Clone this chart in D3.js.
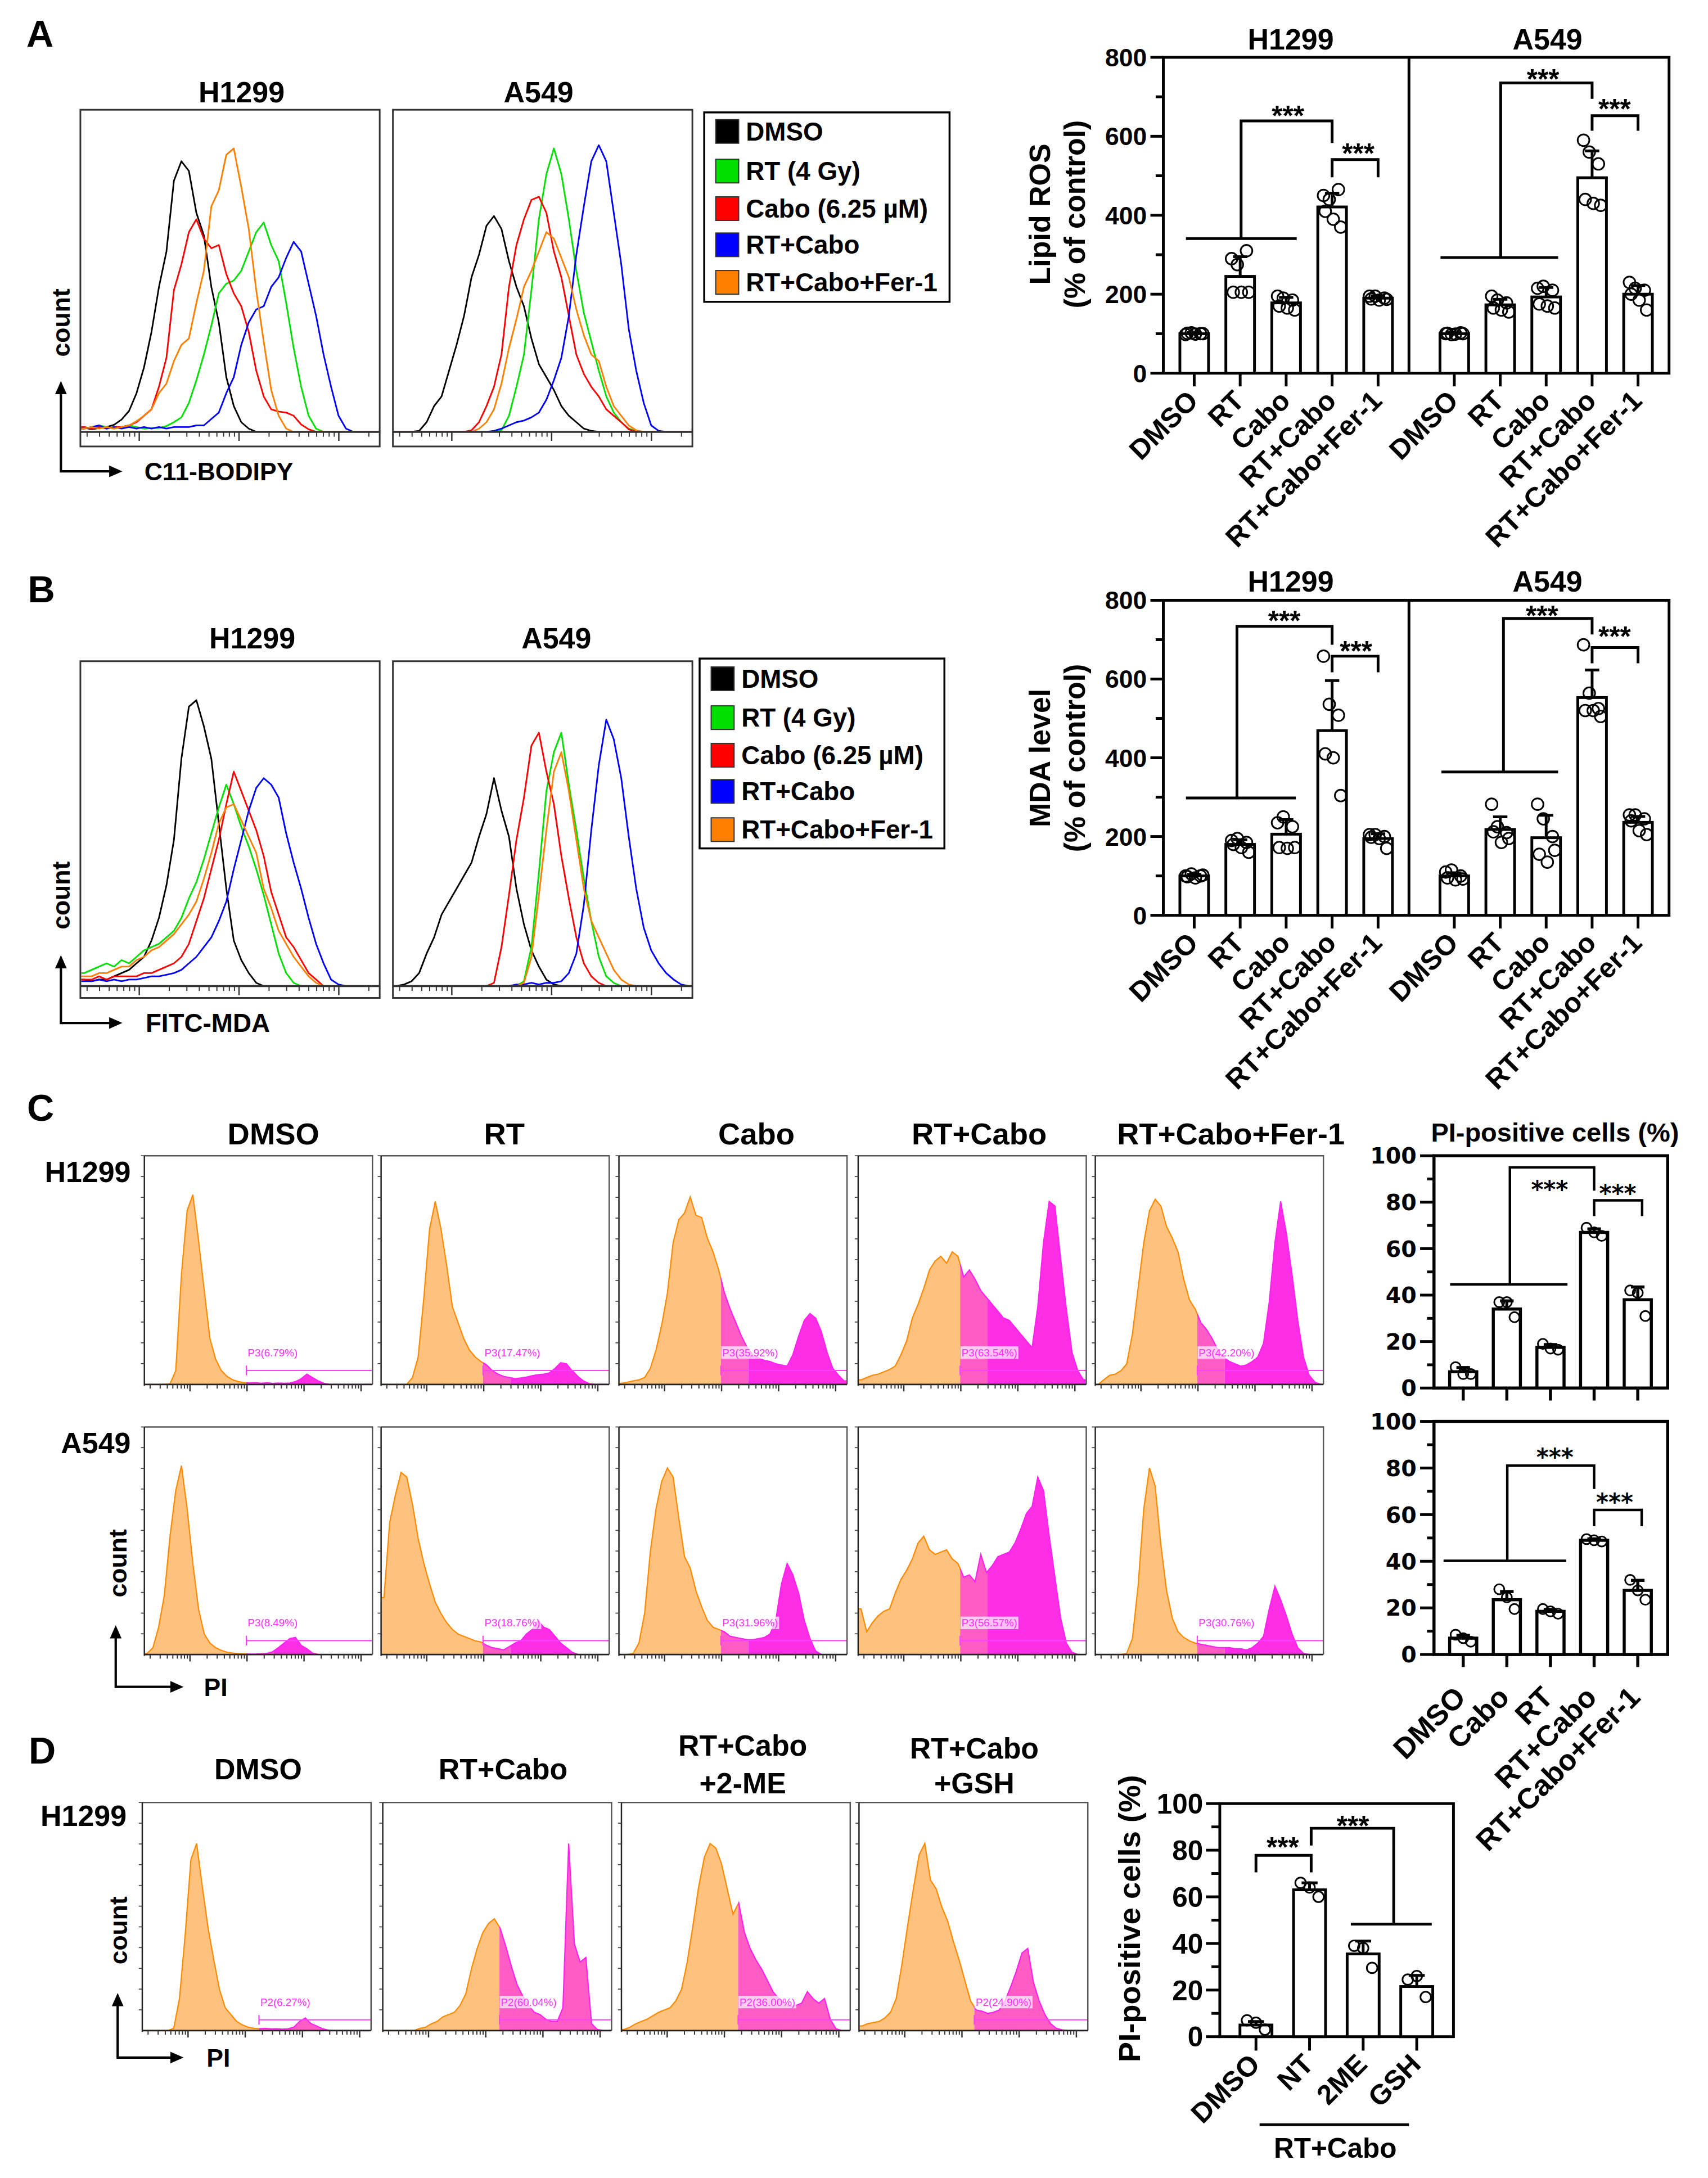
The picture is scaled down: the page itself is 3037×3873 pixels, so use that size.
<!DOCTYPE html>
<html><head><meta charset="utf-8">
<script src="https://cdn.jsdelivr.net/npm/d3@7"></script>
<style>body{margin:0;background:#fff}</style>
</head><body>
<script>
// ---------------- DATA ----------------
// flow histograms: 40 bins across the plot width (counts as % of plot height)
const bins = d3.range(1.25, 100, 2.5);
const histLegend = ["DMSO", "RT (4 Gy)", "Cabo (6.25 \u00b5M)", "RT+Cabo", "RT+Cabo+Fer-1"];
const histColors = ["#000000", "#00E000", "#FF0000", "#0000FF", "#FF8000"];
// Panel A  C11-BODIPY
const aH_DMSO  = [1.3,0.8,1.2,1.5,2.2,3.8,6.5,12,20,31,45,56,78,84,81,68,61,45,34,17,8,3,1,0,0,0,0,0,0,0,0,0,0,0,0,0,0,0,0,0];
const aH_RT    = [1.5,1,2,1.5,1,1.5,2,1.5,1,1.2,1.2,1.8,3,4.5,9,16,24,33,43,46,47,50,56,62,65,58,53,40,26,14,5,1,0,0,0,0,0,0,0,0];
const aH_Cabo  = [1.5,1,1.5,1,1.5,1.5,2,3,5,7,14,23,44,52,62,66,60,57,58,49,43,39,31,19,11,7,6.3,6,5,2.3,0.8,0,0,0,0,0,0,0,0,0];
const aH_RTCabo= [1,1.5,2,1,1.5,1,1.5,1,1.5,1,1.5,1,1.5,1.5,1.5,2,2,4,6,12,17,27,34,38,39,45,48,54,59,56,46,36,24,14,5,1,0,0,0,0];
const aH_Fer   = [1,1.5,1,1.5,1,1.5,2,3.3,5,7,12,15,22,27,29,40,50,70,75,86,88,76,63,44,28,13,5,1,0,0,0,0,0,0,0,0,0,0,0,0];
const aA_DMSO  = [0,0,0,0.3,3,8,11,19,27,36,48,55,64,67,63,53,45,39,29,21,17,13,8,5,3,1,0.3,0,0,0,0,0,0,0,0,0,0,0,0,0];
const aA_RT    = [0,0,0,0,0,0,0,0,0,0,0,0,0,0,0.5,5,14,24,44,66,80,88,80,66,50,37,28,19,11,6,3,1,0.3,0,0,0,0,0,0,0];
const aA_Cabo  = [0,0,0,0,0,0,0,0,0,0,0.5,3,8,14,24,45,58,66,72,73,68,56,48,36,24,18,14,11,7,5,3,0.8,0,0,0,0,0,0,0,0];
const aA_RTCabo= [0,0,0,0,0,0,0,0,0,0,0,0,0,0.3,1,2,3,3.5,4.5,6,10,16,23,36,55,70,84,89,84,68,52,32,19,9,2,0.3,0,0,0,0];
const aA_Fer   = [0,0,0,0,0,0,0,0,0,0,0,1,3,7,15,26,35,45,50,56,62,60,54,48,38,30,24,22,14,8,5,2,0.5,0,0,0,0,0,0,0];
// Panel B  FITC-MDA
const bH_DMSO  = [2,1.5,2,2,3,4,5,7,9,14,21,31,45,70,86,88,80,70,50,30,14,8,4,1,0,0,0,0,0,0,0,0,0,0,0,0,0,0,0,0];
const bH_RT    = [4,5,6,7,6,8,7,9,11,12,13,15,17,21,27,32,39,47,55,62,56,49,43,36,28,19,10,4,1,0,0,0,0,0,0,0,0,0,0,0];
const bH_Cabo  = [2,2,3,2,3,3,3,3,4,4,5,6,7,9,13,20,27,36,45,56,66,60,54,48,40,29,22,15,12,8,4,2,0,0,0,0,0,0,0,0];
const bH_RTCabo= [1.5,1.5,2,1.5,2,1.5,2,2,2.5,3,3,3.5,4,5,7,9,12,15,20,26,36,45,54,61,64,62,58,47,38,30,21,13,7,2,0.5,0,0,0,0,0];
const bH_Fer   = [3,3,4,4,5,6,6,8,9,11,12,14,16,19,22,26,33,41,50,55,56,51,46,41,30,24,17,13,9,6,3,1,0,0,0,0,0,0,0,0];
const bA_DMSO  = [0,0.5,1.5,4,10,15,22,26,30,34,38,46,53,64,54,46,30,19,11,6,2,0.5,0,0,0,0,0,0,0,0,0,0,0,0,0,0,0,0,0,0];
const bA_RT    = [0,0,0,0,0,0,0,0,0,0,0,0,0,0,0,0,0,1.5,12,35,60,72,78,62,48,33,20,9,3,1,0,0,0,0,0,0,0,0,0,0];
const bA_Cabo  = [0,0,0,0,0,0,0,0,0,0,0,0,0,1,12,28,45,58,74,78,66,56,40,27,15,7,3,1,0,0,0,0,0,0,0,0,0,0,0,0];
const bA_RTCabo= [0,0,0,0,0,0,0,0,0,0,0,0,0,0,0,0,0.5,0.5,1,0.5,1,1,1.5,4,10,25,48,68,82,76,64,46,30,18,11,7,4,2,0.5,0];
const bA_Fer   = [0,0,0,0,0,0,0,0,0,0,0,0,0,0,0,0,0,1,9,28,48,66,72,60,45,30,20,15,10,5,2,0.5,0,0,0,0,0,0,0,0];
// Panel C  PI
const cTitles = ["DMSO", "RT", "Cabo", "RT+Cabo", "RT+Cabo+Fer-1"];
const cH_DMSO  = [0,0,0,0,0.3,6,48,76,83,63,41,20,11,6,3.5,2,1.2,0.8,0.6,0.8,0.5,0.7,0.4,0.6,0.5,0.6,1.2,2.5,4.5,3,1.5,0.5,0,0,0,0,0,0,0,0];
const cH_RT    = [0,0,0,0,0,3,12,38,68,80,68,52,34,27,20,15,12,10,8.5,6,4.5,3.5,3,2.5,2.8,3.2,3.8,4.2,4.5,5,7,9.5,9,6,3.5,1.5,0.3,0,0,0];
const cH_Cabo  = [0.5,1,1.5,2,3,7,15,26,40,62,72,75,82,74,73,64,58,50,40,33,27,21,16,13,11.5,10.5,10,9,8.5,8,13,21,28,31,29,23,14,7,4,1.5];
const cH_RTCabo= [2,3,4,4.5,5.5,6.5,8,13,19,29,35,42,50,54,56,53,58,56,47,50,46,41,38,35,32,29,28,25,22,19,16,34,62,80,78,55,33,14,6,2];
const cH_Fer   = [0,2,4,4.5,6,9,22,42,62,76,81,78,69,64,58,46,37,33,27,24,20,15,12,10,9,8,8.5,10,12,18,36,62,80,66,48,28,12,4,1,0];
const cA_DMSO  = [0.5,3,12,26,52,72,83,64,40,20,9,5,3,1.8,1,0.6,0.4,0.3,0.2,0.2,0.3,0.5,1.2,3,5,7,7.5,4,2.5,0.6,0,0,0,0,0,0,0,0,0,0];
const cA_RT    = [25,58,70,80,78,66,51,40,31,23,18,14,11,9,8,7,6,5.5,4,3,2.5,2,3.5,5,6,9,11,15,12,11,8,5,3,1,0,0,0,0,0,0];
const cA_Cabo  = [0,0,0.5,5,18,45,64,76,82,78,60,43,38,28,21,15,12,11,10,8,7.5,7,6.5,6.5,7,7.5,9,15,31,40,35,27,15,7,1.5,0,0,0,0,0];
const cA_RTCabo= [20,10,14,17,19,20,27,33,37,42,49,52,46,44,45,46,42,40,34,35,32,44,36,39,43,44,45,49,55,62,65,78,72,52,34,16,5,1,0,0];
const cA_Fer   = [0,0,0,0,0,0.5,7,30,64,82,74,48,28,16,10,7.5,6,5,4.5,4,3.5,3,3,3,2.5,2.5,2,3,5,8,20,30,24,17,9,3,0.5,0,0,0];
const cH_gates = ["P3(6.79%)", "P3(17.47%)", "P3(35.92%)", "P3(63.54%)", "P3(42.20%)"];
const cA_gates = ["P3(8.49%)", "P3(18.76%)", "P3(31.96%)", "P3(56.57%)", "P3(30.76%)"];
// Panel D  PI
const d_DMSO   = [0,0,0,0,0,1,14,42,75,82,63,45,31,18,10,7,4,2.5,1.5,1,0.8,1,0.7,0.8,0.6,0.8,1.5,4,5.5,3,2,0.8,0.2,0,0,0,0,0,0,0];
const d_RTCabo = [0,0,0,0,0,0,1,1.5,3,4,6,7,8,11,16,27,36,43,47,49,45,37,28,20,15,11,8,7,5,4,4,10,82,38,30,32,3,0.5,0,0];
const d_2ME    = [0.5,1.5,3,4,5,6.5,8,9,10,13,18,30,46,63,76,82,80,73,62,51,56,43,36,31,27,22,17,14,12,10.5,11,12,17,14,12,14,5,0.8,0,0];
const d_GSH    = [2,3,3.5,4,5.5,8,14,29,46,62,77,82,66,62,54,48,39,31,22,13,9,8.5,7.5,8,9,13,19,26,34,36,21,13,7,3,1,0.3,0,0,0,0];
const d_gates  = ["P2(6.27%)", "P2(60.04%)", "P2(36.00%)", "P2(24.90%)"];
const d_gatePos = [51, 51, 51, 50.4];

// Bar charts
const catsA = ["DMSO", "RT", "Cabo", "RT+Cabo", "RT+Cabo+Fer-1"];
const lipidH1299 = [100, 245, 178, 421, 190];
const lipidH1299SD = [3, 50, 14, 35, 6];
const lipidH1299Pts = [[98,102,100,101,99,100],[290,275,310,205,205,205],[195,190,185,170,165,160],[450,440,465,410,390,370],[195,195,190,188,185,187]];
const lipidA549 = [100, 173, 193, 495, 200];
const lipidA549SD = [3, 14, 24, 68, 22];
const lipidA549Pts = [[100,98,102,101,99,100],[195,185,178,165,160,155],[215,220,210,175,170,165],[590,560,530,440,430,425],[230,215,210,200,185,160]];
const mdaH1299 = [100, 180, 206, 469, 195];
const mdaH1299SD = [4, 12, 37, 127, 12];
const mdaH1299Pts = [[100,105,100,98,95,102],[190,195,185,180,172,160],[235,250,225,172,170,172],[658,536,508,410,400,304],[205,205,200,198,195,170]];
const mdaA549 = [100, 218, 197, 553, 236];
const mdaA549SD = [8, 32, 57, 70, 15];
const mdaA549Pts = [[110,115,100,95,90,92],[282,225,210,212,185,195],[282,245,200,155,135,165],[687,564,525,520,520,505],[255,255,245,240,215,205]];
const catsC = ["DMSO", "Cabo", "RT", "RT+Cabo", "RT+Cabo+Fer-1"];
const piH1299 = [7, 34, 17.5, 67, 38];
const piH1299SD = [1.8, 3.5, 1.2, 1.5, 5.5];
const piH1299Pts = [[9,6,6],[37,37,30.5],[19,17,16.5],[69,67,65.5],[42,41,31]];
const piA549 = [7, 23.5, 18.5, 49, 27.5];
const piA549SD = [1.2, 3.5, 0.8, 0.6, 4.3];
const piA549Pts = [[8.5,7,5.5],[28,24.5,19.5],[19.5,18.5,17.5],[49.5,49,48.5],[32,27.5,23.5]];
const catsD = ["DMSO", "NT", "2ME", "GSH"];
const piD = [5, 63, 35.5, 21.5];
const piDSD = [1.5, 3, 5.5, 4.8];
const piDPts = [[7,6,3],[66,64,60],[39,38,29.5],[24.5,26,17]];
// significance brackets: [category position, value]
const sigA_H1299 = [[[-0.18,341],[2.23,341]], [[1.02,341],[1.02,639],[3,639],[3,583]], [[3,496],[3,541],[4,541],[4,496]]];
const starsA_H1299 = [[2.04,669],[3.57,573]];
const sigA_A549 = [[[-0.3,293],[2.26,293]], [[1.01,293],[1.01,735],[3,735],[3,695]], [[3,614],[3,652],[4,652],[4,614]]];
const starsA_A549 = [[1.93,761],[3.49,686]];
const sigB_H1299 = [[[-0.18,298],[2.21,298]], [[0.93,298],[0.93,734],[3,734],[3,687]], [[3,617],[3,658],[4,658],[4,617]]];
const starsB_H1299 = [[1.96,765],[3.52,687]];
const sigB_A549 = [[[-0.28,364],[2.26,364]], [[1.07,364],[1.07,754],[3,754],[3,713]], [[3,640],[3,680],[4,680],[4,640]]];
const starsB_A549 = [[1.91,777],[3.49,724]];
const sigC_H1299 = [[[-0.3,44.6],[2.39,44.6]], [[1.07,44.6],[1.07,95],[3,95],[3,85]], [[3,74],[3,80.8],[4.1,80.8],[4.1,74]]];
const starsC_H1299 = [[1.98,87.9],[3.54,86]];
const sigC_A549 = [[[-0.45,40.2],[2.36,40.2]], [[1.01,40.2],[1.01,81],[3,81],[3,71]], [[3,55],[3,62],[4.09,62],[4.09,55]]];
const starsC_A549 = [[2.1,87],[3.47,67.6]];
const sigD = [[[0,70.5],[0,77.8],[1.03,77.8],[1.03,70.5]], [[1.03,82],[1.03,89.4],[2.57,89.4],[2.57,48.5]], [[1.77,48.3],[3.28,48.3]]];
const starsD = [[0.5,84],[1.81,93.2]];

// ---------------- DRAWING ----------------
const FONT = "'Liberation Sans', Arial, Helvetica, sans-serif";
const svg = d3.select("body").append("svg")
  .attr("width", 3037).attr("height", 3873).attr("viewBox", "0 0 1228 1566")
  .style("display", "block").style("background", "#fff");
svg.append("rect").attr("width", 1228).attr("height", 1566).attr("fill", "#fff");
const defs = svg.append("defs");

function txt(x, y, s, size, o = {}) {
  const t = svg.append("text").attr("x", x).attr("y", y).text(s)
    .attr("font-family", o.family || FONT).attr("font-size", size)
    .attr("font-weight", o.weight || "bold").attr("fill", o.fill || "#000")
    .attr("text-anchor", o.anchor || "start");
  if (o.rotate != null) t.attr("transform", `rotate(${o.rotate},${x},${y})`);
  return t;
}
function arrows(x, top, cy, right) {
  svg.append("path").attr("d", `M${x},${top + 7} L${x},${cy} L${right - 7},${cy}`)
    .attr("fill", "none").attr("stroke", "#000").attr("stroke-width", 1.7);
  svg.append("path").attr("d", `M${x},${top} L${x - 4.2},${top + 9.5} L${x + 4.2},${top + 9.5}Z`).attr("fill", "#000");
  svg.append("path").attr("d", `M${right},${cy} L${right - 9.5},${cy - 4.2} L${right - 9.5},${cy + 4.2}Z`).attr("fill", "#000");
}
let clipN = 0;
function clip(x, y, w, h) {
  const id = "cp" + (clipN++);
  defs.append("clipPath").attr("id", id).append("rect").attr("x", x).attr("y", y).attr("width", Math.max(0, w)).attr("height", h);
  return `url(#${id})`;
}
function pts(v) {
  return [[0.3, v[0]]].concat(bins.map((b, i) => [b, v[i]])).concat([[99.7, v[v.length - 1]]]);
}
function logTicks(x0, w, y, dom, majL, minL, col) {
  const ls = d3.scaleLog().domain(dom).range([x0, x0 + w]);
  ls.ticks().forEach(t => {
    const lg = Math.log10(t);
    const major = Math.abs(lg - Math.round(lg)) < 1e-6;
    svg.append("line").attr("x1", ls(t)).attr("x2", ls(t)).attr("y1", y).attr("y2", y + (major ? majL : minL))
      .attr("stroke", col).attr("stroke-width", major ? 1 : 0.8);
  });
}
function lineHist(x0, top, w, axisY, bottom, curves) {
  const xs = d3.scaleLinear().domain([0, 100]).range([x0, x0 + w]);
  const ys = d3.scaleLinear().domain([0, 100]).range([axisY, top]);
  const line = d3.line().x(d => xs(d[0])).y(d => ys(d[1]));
  const cp = clip(x0, top, w, axisY - top + 0.5);
  curves.forEach((c, i) => {
    svg.append("path").attr("d", line(pts(c))).attr("fill", "none").attr("stroke", histColors[i])
      .attr("stroke-width", 1.15).attr("stroke-linejoin", "round").attr("clip-path", cp);
  });
  svg.append("rect").attr("x", x0).attr("y", top).attr("width", w).attr("height", bottom - top)
    .attr("fill", "none").attr("stroke", "#333").attr("stroke-width", 1.2);
  svg.append("line").attr("x1", x0).attr("x2", x0 + w).attr("y1", axisY).attr("y2", axisY)
    .attr("stroke", "#333").attr("stroke-width", 1.4);
  logTicks(x0, w, axisY, [Math.pow(10, 0.41), Math.pow(10, 3.41)], 6.5, 3.5, "#333");
}
function legend(x, y, w, h, rows) {
  svg.append("rect").attr("x", x).attr("y", y).attr("width", w).attr("height", h)
    .attr("fill", "#fff").attr("stroke", "#000").attr("stroke-width", 1.4);
  histLegend.forEach((s, i) => {
    svg.append("rect").attr("x", x + 8.3).attr("y", rows[i] - 8.5).attr("width", 16.5).attr("height", 17)
      .attr("fill", histColors[i]).attr("stroke", "#333").attr("stroke-width", 0.8);
    txt(x + 30, rows[i] + 6.5, s, 18.5);
  });
}
function fillHist(x0, top, w, axisY, v, gate, ovEnd, label, gateY, pinkAll) {
  const xs = d3.scaleLinear().domain([0, 100]).range([x0, x0 + w]);
  const ys = d3.scaleLinear().domain([0, 100]).range([axisY, top]);
  const area = d3.area().x(d => xs(d[0])).y0(axisY).y1(d => ys(d[1]));
  const line = d3.line().x(d => xs(d[0])).y(d => ys(d[1]));
  const p = pts(v), gx = xs(gate), ox = xs(ovEnd), h = axisY - top + 0.5;
  const cL = clip(x0, top, gx - x0, h), cM = clip(gx, top, ox - gx, h), cR = clip(ox, top, x0 + w - ox, h), cMR = clip(gx, top, x0 + w - gx, h);
  svg.append("path").attr("d", area(p)).attr("fill", "#FFC27E").attr("clip-path", cL);
  svg.append("path").attr("d", area(p)).attr("fill", "#FF5CC6").attr("clip-path", cM);
  svg.append("path").attr("d", area(p)).attr("fill", pinkAll ? "#FF5CC6" : "#FF2EE6").attr("clip-path", cR);
  svg.append("path").attr("d", line(p)).attr("fill", "none").attr("stroke", "#FF8A00").attr("stroke-width", 0.9).attr("clip-path", cL);
  svg.append("path").attr("d", line(p)).attr("fill", "none").attr("stroke", "#FF22EE").attr("stroke-width", 0.9).attr("clip-path", cMR);
  // gate
  const gy = ys(gateY);
  svg.append("line").attr("x1", gx).attr("x2", x0 + w).attr("y1", gy).attr("y2", gy).attr("stroke", "#FF40FF").attr("stroke-width", 0.9);
  svg.append("line").attr("x1", gx).attr("x2", gx).attr("y1", gy - 3.5).attr("y2", gy + 3.5).attr("stroke", "#FF40FF").attr("stroke-width", 0.9);
  const lt = txt(gx + 1, ys(gateY + 6.2), label, 7.6, { weight: "normal", fill: "#FF30FF" });
  const bb = lt.node().getBBox();
  svg.insert("rect", () => lt.node()).attr("x", bb.x - 0.5).attr("y", bb.y).attr("width", bb.width + 1).attr("height", bb.height)
    .attr("fill", "#fff").attr("opacity", 0.7).attr("stroke", "#fff").attr("stroke-width", 0.5);
  // box
  svg.append("path").attr("d", `M${x0},${top} L${x0 + w},${top} L${x0 + w},${axisY}`).attr("fill", "none").attr("stroke", "#555").attr("stroke-width", 1);
  svg.append("line").attr("x1", x0).attr("x2", x0).attr("y1", top).attr("y2", axisY + 1).attr("stroke", "#222").attr("stroke-width", 1);
  svg.append("line").attr("x1", x0).attr("x2", x0 + w).attr("y1", axisY).attr("y2", axisY).attr("stroke", "#222").attr("stroke-width", 1.1);
  d3.range(1, 12).forEach(k => {
    const yy = axisY - k * (axisY - top) / 11;
    svg.append("line").attr("x1", x0 - 2.5).attr("x2", x0).attr("y1", yy).attr("y2", yy).attr("stroke", "#444").attr("stroke-width", 0.7);
  });
  logTicks(x0, w, axisY, [Math.pow(10, 0.2), Math.pow(10, 4.2)], 5, 3, "#333");
}
function barChart(o) {
  const { xs, y, cats, means, sds, ptsArr, barW, r, sw } = o;
  const pos = i => xs.range()[0] + i * xs.step();
  cats.forEach((c, i) => {
    const cx = xs(c);
    svg.append("rect").attr("x", cx - barW / 2).attr("y", y(means[i])).attr("width", barW).attr("height", y(0) - y(means[i]))
      .attr("fill", "#fff").attr("stroke", "#000").attr("stroke-width", sw);
    const top = y(means[i] + sds[i]);
    svg.append("line").attr("x1", cx).attr("x2", cx).attr("y1", y(means[i])).attr("y2", top).attr("stroke", "#000").attr("stroke-width", sw);
    svg.append("line").attr("x1", cx - barW * 0.25).attr("x2", cx + barW * 0.25).attr("y1", top).attr("y2", top).attr("stroke", "#000").attr("stroke-width", sw);
  });
  cats.forEach((c, i) => {
    const cx = xs(c), p = ptsArr[i];
    const offs = p.length === 6 ? [-0.3, -0.1, 0.22, -0.24, 0.04, 0.3] : [-0.28, 0, 0.28];
    p.forEach((v, k) => {
      svg.append("circle").attr("cx", cx + offs[k] * barW).attr("cy", y(v)).attr("r", r)
        .attr("fill", "none").attr("stroke", "#000").attr("stroke-width", 1.2);
    });
  });
  o.sig.forEach(path => {
    svg.append("path").attr("d", d3.line().x(d => pos(d[0])).y(d => y(d[1]))(path))
      .attr("fill", "none").attr("stroke", "#000").attr("stroke-width", o.sigW || 2);
  });
  o.stars.forEach(s => txt(pos(s[0]), y(s[1]) + 0.58 * o.starSize, "***", o.starSize, { anchor: "middle", family: o.starFamily || FONT }));
}
function yAxis(x, y, majors, minors, majL, minL, sw, fs, family, labelGap) {
  majors.forEach(v => {
    svg.append("line").attr("x1", x - majL).attr("x2", x).attr("y1", y(v)).attr("y2", y(v)).attr("stroke", "#000").attr("stroke-width", sw);
    txt(x - majL - labelGap, y(v) + fs * 0.36, String(v), fs, { anchor: "end", family });
  });
  minors.forEach(v => {
    svg.append("line").attr("x1", x - minL).attr("x2", x).attr("y1", y(v)).attr("y2", y(v)).attr("stroke", "#000").attr("stroke-width", sw);
  });
}
function xTicks(xs, cats, y0, len, sw) {
  cats.forEach(c => svg.append("line").attr("x1", xs(c)).attr("x2", xs(c)).attr("y1", y0).attr("y2", y0 + len).attr("stroke", "#000").attr("stroke-width", sw));
}
function xLabels(xs, cats, y0, fs, dx, dy) {
  cats.forEach(c => txt(xs(c) + dx, y0 + dy, c, fs, { anchor: "end", rotate: -45 }));
}

// ---------- Panel A ----------
txt(19, 33.6, "A", 27);
txt(173.7, 73.5, "H1299", 21, { anchor: "middle" });
txt(387.2, 73.5, "A549", 21, { anchor: "middle" });
lineHist(57.8, 78.9, 215.2, 310.5, 321, [aH_DMSO, aH_RT, aH_Cabo, aH_RTCabo, aH_Fer]);
lineHist(282.5, 78.9, 215.3, 310.5, 321, [aA_DMSO, aA_RT, aA_Cabo, aA_RTCabo, aA_Fer]);
legend(506.3, 80.8, 176.4, 136.2, [94.5, 123, 150, 176, 203]);
arrows(43.8, 273.9, 338.9, 88);
txt(50.3, 232, "count", 18, { anchor: "middle", rotate: -90 });
txt(103.8, 345.5, "C11-BODIPY", 18);

// A bars
{
  const y = d3.scaleLinear().domain([0, 800]).range([268.3, 41.2]);
  const xH = d3.scalePoint().domain(catsA).range([858.6, 990.8]);
  const xA = d3.scalePoint().domain(catsA).range([1045.6, 1177.7]);
  svg.append("rect").attr("x", 836.4).attr("y", y(800)).attr("width", 1200 - 836.4).attr("height", y(0) - y(800)).attr("fill", "none").attr("stroke", "#000").attr("stroke-width", 2);
  svg.append("line").attr("x1", 1013).attr("x2", 1013).attr("y1", y(800)).attr("y2", y(0)).attr("stroke", "#000").attr("stroke-width", 2);
  yAxis(836.4, y, [0, 200, 400, 600, 800], [100, 300, 500, 700], 9.3, 5.5, 2, 18, FONT, 2.5);
  xTicks(xH, catsA, y(0), 9.5, 2); xTicks(xA, catsA, y(0), 9.5, 2);
  barChart({ xs: xH, y, cats: catsA, means: lipidH1299, sds: lipidH1299SD, ptsArr: lipidH1299Pts, barW: 20.6, r: 4.2, sw: 2, sig: sigA_H1299, stars: starsA_H1299, starSize: 20 });
  barChart({ xs: xA, y, cats: catsA, means: lipidA549, sds: lipidA549SD, ptsArr: lipidA549Pts, barW: 20.6, r: 4.2, sw: 2, sig: sigA_A549, stars: starsA_A549, starSize: 20 });
  xLabels(xH, catsA, y(0), 20, 4, 21); xLabels(xA, catsA, y(0), 20, 4, 21);
  txt(928, 35.5, "H1299", 21, { anchor: "middle" });
  txt(1112.6, 35.5, "A549", 21, { anchor: "middle" });
  txt(755, 154, "Lipid ROS", 21, { anchor: "middle", rotate: -90 });
  txt(780, 154, "(% of control)", 21, { anchor: "middle", rotate: -90 });
}

// ---------- Panel B ----------
txt(20, 433, "B", 27);
txt(181.4, 466.3, "H1299", 21, { anchor: "middle" });
txt(400, 466.3, "A549", 21, { anchor: "middle" });
lineHist(57.8, 475.4, 215.2, 709, 717.5, [bH_DMSO, bH_RT, bH_Cabo, bH_RTCabo, bH_Fer]);
lineHist(282.5, 475.4, 215.3, 709, 717.5, [bA_DMSO, bA_RT, bA_Cabo, bA_RTCabo, bA_Fer]);
legend(503, 473.5, 176, 136.5, [488, 516, 543, 569, 596.5]);
arrows(43.8, 686.8, 735.5, 88);
txt(50.3, 643.8, "count", 18, { anchor: "middle", rotate: -90 });
txt(104.7, 742, "FITC-MDA", 18.5);
{
  const y = d3.scaleLinear().domain([0, 800]).range([658.1, 431.6]);
  const xH = d3.scalePoint().domain(catsA).range([858.6, 990.8]);
  const xA = d3.scalePoint().domain(catsA).range([1045.6, 1177.7]);
  svg.append("rect").attr("x", 836.4).attr("y", y(800)).attr("width", 1200 - 836.4).attr("height", y(0) - y(800)).attr("fill", "none").attr("stroke", "#000").attr("stroke-width", 2);
  svg.append("line").attr("x1", 1013).attr("x2", 1013).attr("y1", y(800)).attr("y2", y(0)).attr("stroke", "#000").attr("stroke-width", 2);
  yAxis(836.4, y, [0, 200, 400, 600, 800], [100, 300, 500, 700], 9.3, 5.5, 2, 18, FONT, 2.5);
  xTicks(xH, catsA, y(0), 9.5, 2); xTicks(xA, catsA, y(0), 9.5, 2);
  barChart({ xs: xH, y, cats: catsA, means: mdaH1299, sds: mdaH1299SD, ptsArr: mdaH1299Pts, barW: 20.6, r: 4.2, sw: 2, sig: sigB_H1299, stars: starsB_H1299, starSize: 20 });
  barChart({ xs: xA, y, cats: catsA, means: mdaA549, sds: mdaA549SD, ptsArr: mdaA549Pts, barW: 20.6, r: 4.2, sw: 2, sig: sigB_A549, stars: starsB_A549, starSize: 20 });
  xLabels(xH, catsA, y(0), 20, 4, 21); xLabels(xA, catsA, y(0), 20, 4, 21);
  txt(928, 425.5, "H1299", 21, { anchor: "middle" });
  txt(1112.6, 425.5, "A549", 21, { anchor: "middle" });
  txt(755, 545, "MDA level", 21, { anchor: "middle", rotate: -90 });
  txt(780, 545, "(% of control)", 21, { anchor: "middle", rotate: -90 });
}

// ---------- Panel C ----------
txt(19.4, 806, "C", 27);
const cLefts = [103.8, 274, 445, 617, 787.5];
const cTitleX = [196.6, 362.6, 543.8, 704, 885];
cTitles.forEach((t, i) => txt(cTitleX[i], 823, t, 22, { anchor: "middle" }));
txt(94, 850, "H1299", 21, { anchor: "end" });
txt(94, 1045, "A549", 21, { anchor: "end" });
[cH_DMSO, cH_RT, cH_Cabo, cH_RTCabo, cH_Fer].forEach((v, i) => fillHist(cLefts[i], 831, 164, 995.4, v, 44.7, 56.7, cH_gates[i], 6.1, false));
[cA_DMSO, cA_RT, cA_Cabo, cA_RTCabo, cA_Fer].forEach((v, i) => fillHist(cLefts[i], 1026, 164, 1189.6, v, 44.7, 56.7, cA_gates[i], 6.1, false));
arrows(83.2, 1168.5, 1212.9, 132);
txt(91, 1124, "count", 18, { anchor: "middle", rotate: -90 });
txt(146.6, 1219.3, "PI", 18);
{
  const DV = "'DejaVu Sans', Verdana, sans-serif";
  const xC = d3.scalePoint().domain(catsC).range([1052, 1177.5]);
  const y1 = d3.scaleLinear().domain([0, 100]).range([998, 831]);
  const y2 = d3.scaleLinear().domain([0, 100]).range([1189.6, 1022]);
  [[y1, piH1299, piH1299SD, piH1299Pts, sigC_H1299, starsC_H1299], [y2, piA549, piA549SD, piA549Pts, sigC_A549, starsC_A549]].forEach(([y, m, s, p, sg, st]) => {
    svg.append("rect").attr("x", 1031).attr("y", y(100)).attr("width", 1199 - 1031).attr("height", y(0) - y(100)).attr("fill", "none").attr("stroke", "#000").attr("stroke-width", 2.2);
    yAxis(1031, y, [0, 20, 40, 60, 80, 100], [10, 30, 50, 70, 90], 10, 5, 2, 16, DV, 2.5);
    xTicks(xC, catsC, y(0), 9, 2.2);
    barChart({ xs: xC, y, cats: catsC, means: m, sds: s, ptsArr: p, barW: 19.5, r: 3.6, sw: 2.2, sig: sg, stars: st, starSize: 17, sigW: 1.8, starFamily: DV });
  });
  xLabels(xC, catsC, y2(0), 21, 3, 32);
  txt(1118, 821, "PI-positive cells (%)", 19, { anchor: "middle" });
}

// ---------- Panel D ----------
txt(20.6, 1268, "D", 27);
const dLefts = [102.3, 275.2, 446.8, 617.6];
txt(185.6, 1279.5, "DMSO", 21, { anchor: "middle" });
txt(361.7, 1279.5, "RT+Cabo", 21, { anchor: "middle" });
txt(534, 1262.5, "RT+Cabo", 21, { anchor: "middle" });
txt(534, 1289.5, "+2-ME", 21, { anchor: "middle" });
txt(700.5, 1264.5, "RT+Cabo", 21, { anchor: "middle" });
txt(700.5, 1289.5, "+GSH", 21, { anchor: "middle" });
txt(91, 1313, "H1299", 21, { anchor: "end" });
[d_DMSO, d_RTCabo, d_2ME, d_GSH].forEach((v, i) => fillHist(dLefts[i], 1296, 164.5, 1460, v, d_gatePos[i], 100, d_gates[i], 4.7, true));
arrows(84.6, 1433, 1479.4, 132);
txt(91.2, 1388, "count", 18, { anchor: "middle", rotate: -90 });
txt(148.5, 1485.8, "PI", 18);
{
  const xD = d3.scalePoint().domain(catsD).range([903, 1018.6]);
  const y = d3.scaleLinear().domain([0, 100]).range([1464.4, 1296.8]);
  svg.append("rect").attr("x", 877).attr("y", y(100)).attr("width", 1045 - 877).attr("height", y(0) - y(100)).attr("fill", "none").attr("stroke", "#000").attr("stroke-width", 2);
  yAxis(877, y, [0, 20, 40, 60, 80, 100], [10, 30, 50, 70, 90], 10, 6, 2, 20, FONT, 2);
  xTicks(xD, catsD, y(0), 10, 2);
  barChart({ xs: xD, y, cats: catsD, means: piD, sds: piDSD, ptsArr: piDPts, barW: 23, r: 3.8, sw: 2, sig: sigD, stars: starsD, starSize: 20 });
  xLabels(xD, catsD, y(0), 20, 4, 21);
  svg.append("line").attr("x1", 905.6).attr("x2", 1013).attr("y1", 1527.7).attr("y2", 1527.7).attr("stroke", "#000").attr("stroke-width", 2);
  txt(960, 1551.5, "RT+Cabo", 20, { anchor: "middle" });
  txt(819.7, 1379.5, "PI-positive cells (%)", 22, { anchor: "middle", rotate: -90 });
}
</script>
</body></html>
